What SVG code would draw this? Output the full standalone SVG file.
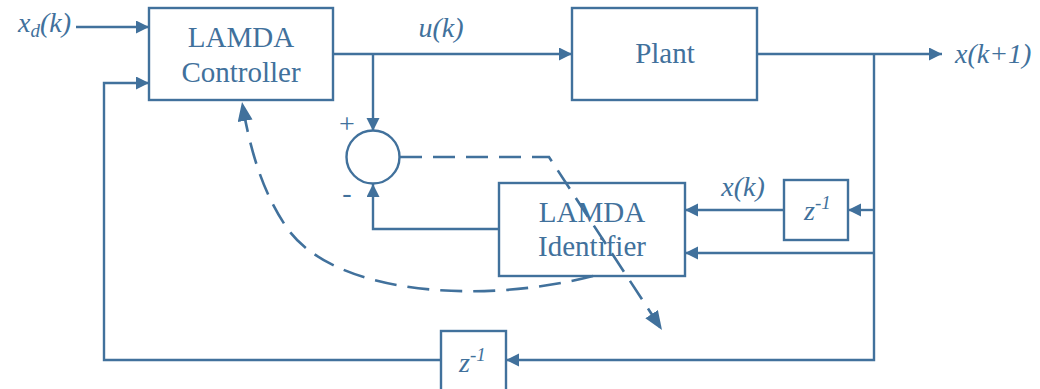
<svg xmlns="http://www.w3.org/2000/svg" width="1040" height="389" viewBox="0 0 1040 389">
<defs>
<style>
.box{fill:#fff;stroke:#41719c;stroke-width:2.4}
.ln{fill:none;stroke:#41719c;stroke-width:2.4}
.dash{fill:none;stroke:#41719c;stroke-width:2.6;stroke-dasharray:22 11}
.t{font-family:'Liberation Serif','Times New Roman',serif;font-size:28px;fill:#41719c}
.b{font-size:29px}
.i{font-style:italic}
.s{font-family:'Liberation Serif','Times New Roman',serif;font-size:28px;fill:#41719c}
</style>
<marker id="ah" markerUnits="userSpaceOnUse" markerWidth="14" markerHeight="14" refX="13" refY="6.5" orient="auto">
<path d="M0,0 L13,6.5 L0,13 z" fill="#41719c"/>
</marker>
<marker id="ahd" markerUnits="userSpaceOnUse" markerWidth="20" markerHeight="16" refX="19" refY="7.5" orient="auto">
<path d="M0,0 L19,7.5 L0,15 z" fill="#41719c"/>
</marker>
</defs>
<rect width="1040" height="389" fill="#fff"/>

<g id="controller">
<rect class="box" x="149" y="8" width="184" height="92"/>
<text class="t b" x="241" y="47" text-anchor="middle">LAMDA</text>
<text class="t b" x="241" y="82" text-anchor="middle">Controller</text>
</g>

<g id="plant">
<rect class="box" x="572" y="8" width="185" height="92"/>
<text class="t b" x="665" y="63" text-anchor="middle">Plant</text>
</g>

<g id="sum">
<circle class="box" cx="373" cy="157" r="26.5"/>
<text class="s" x="347" y="133" text-anchor="middle">+</text>
<text class="s" x="347" y="202" text-anchor="middle">-</text>
</g>

<g id="identifier">
<rect class="box" x="499" y="183" width="186" height="93"/>
<text class="t b" x="592" y="222" text-anchor="middle">LAMDA</text>
<text class="t b" x="592" y="256" text-anchor="middle">Identifier</text>
</g>

<g id="delay1">
<rect class="box" x="784" y="180" width="64" height="60"/>
<text class="t i" x="804" y="220" font-size="27">z<tspan font-size="19" dy="-11">-1</tspan></text>
</g>

<g id="delay2">
<rect class="box" x="441" y="331" width="65" height="62"/>
<text class="t i" x="459" y="372" font-size="27">z<tspan font-size="19" dy="-11">-1</tspan></text>
</g>

<g id="labels">
<text class="t i" x="18" y="32">x<tspan font-size="19" dy="5">d</tspan><tspan dy="-5">(k)</tspan></text>
<text class="t i" x="441" y="37" text-anchor="middle">u(k)</text>
<text class="t i" x="955" y="63">x(k+1)</text>
<text class="t i" x="743" y="196" text-anchor="middle">x(k)</text>
</g>

<g id="connectors">
<path class="ln" d="M76,27 H149" marker-end="url(#ah)"/>
<path class="ln" d="M441,360 H104 V83 H149" marker-end="url(#ah)"/>
<path class="ln" d="M333,54 H572" marker-end="url(#ah)"/>
<path class="ln" d="M373,54 V131" marker-end="url(#ah)"/>
<path class="ln" d="M757,54 H942" marker-end="url(#ah)"/>
<path class="ln" d="M874,54 V360 H506" marker-end="url(#ah)"/>
<path class="ln" d="M874,210 H848" marker-end="url(#ah)"/>
<path class="ln" d="M784,210 H685" marker-end="url(#ah)"/>
<path class="ln" d="M874,253 H685" marker-end="url(#ah)"/>
<path class="ln" d="M499,229 H373 V184" marker-end="url(#ah)"/>
<path class="dash" d="M400,157 H549 L662,330" marker-end="url(#ahd)"/>
<path class="dash" d="M593,276 C480,305 330,295 285,225 C262,190 250,150 242,102" marker-end="url(#ahd)"/>
</g>
</svg>
